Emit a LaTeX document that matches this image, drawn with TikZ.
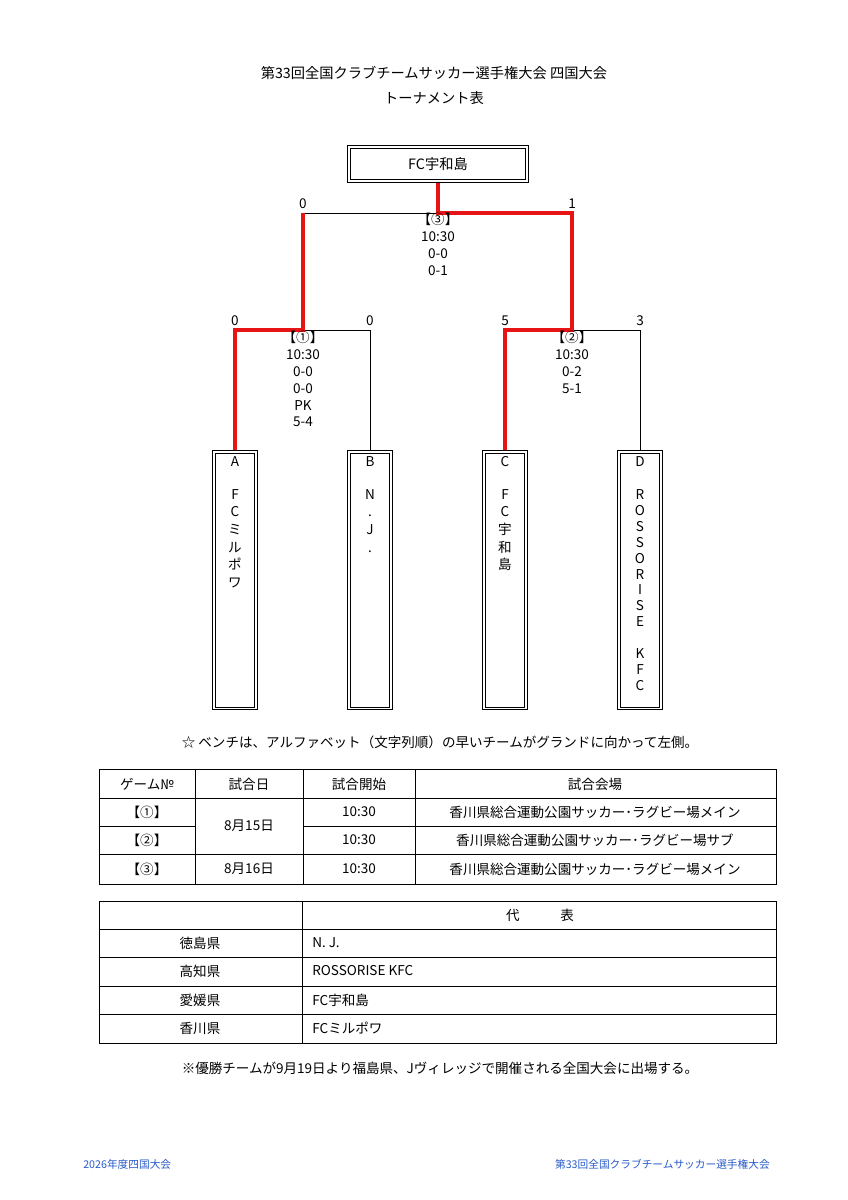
\documentclass[tikz,border=0pt]{standalone}
\usepackage{fontspec}
\setmainfont{Noto Sans CJK JP}
\usetikzlibrary{positioning}

\definecolor{winred}{RGB}{230,20,20}
\definecolor{footblue}{RGB}{40,90,200}

\tikzset{
  team/.style={draw, line width=0.6pt,
    minimum width=31.5pt, minimum height=182pt, inner sep=0pt},
  line/.style={line width=0.6pt},
  win/.style={line width=2.2pt, winred},
  score/.style={font=\fontsize{9.5}{11}\selectfont, inner sep=1pt},
  info/.style={align=center, anchor=north, inner sep=0pt,
    font=\fontsize{9.5}{11.8}\selectfont},
  letters/.style={align=center, anchor=north, inner sep=0pt,
    font=\fontsize{9.5}{12}\selectfont},
  cell/.style={font=\fontsize{9.5}{11}\selectfont, inner sep=0pt},
}
\newcommand{\innerframe}[1]{%
  \draw[line] ([shift={(2.2pt,-2.2pt)}]#1.north west) rectangle ([shift={(-2.2pt,2.2pt)}]#1.south east);}

\begin{document}
\begin{tikzpicture}[x=0.7017pt, y=-0.7017pt]
  \useasboundingbox (0,0) rectangle (848,1200);

  % title
  \node[cell, font=\fontsize{10}{12}\selectfont] (title) at (434,73) {第33回全国クラブチームサッカー選手権大会 四国大会};
  \node[cell, font=\fontsize{10}{12}\selectfont] (subtitle) at (434,98) {トーナメント表};

  % champion
  \node[team, minimum width=127pt, minimum height=26pt, font=\fontsize{10}{12}\selectfont] (champ) at (438,164) {FC宇和島};
  \innerframe{champ}

  % teams
  \node[team] (teamA) at (235,580) {};
  \node[team] (teamB) at (370,580) {};
  \node[team] (teamC) at (505,580) {};
  \node[team] (teamD) at (640,580) {};
  \foreach \t in {teamA,teamB,teamC,teamD} {\innerframe{\t}}
  \node[letters] at (235,456) {A};
  \node[letters] at (370,456) {B};
  \node[letters] at (505,456) {C};
  \node[letters] at (640,456) {D};
  \node[letters, font=\fontsize{9.5}{12.4}\selectfont] at (235,489) {F\\C\\ミ\\ル\\ポ\\ワ};
  \node[letters, font=\fontsize{9.5}{12.4}\selectfont] at (370,489) {N\\.\\J\\.};
  \node[letters, font=\fontsize{9.5}{12.4}\selectfont] at (505,489) {F\\C\\宇\\和\\島};
  \node[letters, font=\fontsize{9.5}{11.2}\selectfont] at (640,489) {R\\O\\S\\S\\O\\R\\I\\S\\E\\[11.2pt]K\\F\\C};

  % bracket points
  \coordinate (a1) at (235,330);
  \coordinate (b1) at (370,330);
  \coordinate (m1) at (303,330);
  \coordinate (c1) at (505,330);
  \coordinate (d1) at (640,330);
  \coordinate (m2) at (572,330);
  \coordinate (f1) at (303,213);
  \coordinate (f2) at (572,213);
  \coordinate (fm) at (438,213);

  % black lines
  \draw[line] (m1) -- (b1) -- (teamB.north);
  \draw[line] (m2) -- (d1) -- (teamD.north);
  \draw[line] (f1) -- (fm);
  % winners
  \draw[win] (teamA.north) -- (a1) -- (m1) -- (f1);
  \draw[win] (teamC.north) -- (c1) -- (m2) -- (f2) -- (fm) -- (champ.south);

  % scores
  \node[score, above=2pt of a1] {0};
  \node[score, above=2pt of b1] {0};
  \node[score, above=2pt of c1] {5};
  \node[score, above=2pt of d1] {3};
  \node[score, above=2pt of f1] {0};
  \node[score, above=2pt of f2] {1};

  % match info
  \node[info] (game3) at (438,213) {【③】\\10:30\\0-0\\0-1};
  \node[info] (game1) at (303,331) {【①】\\10:30\\0-0\\0-0\\PK\\5-4};
  \node[info] (game2) at (572,331) {【②】\\10:30\\0-2\\5-1};

  % note
  \node[cell] (bench) at (440,742) {☆ ベンチは、アルファベット（文字列順）の早いチームがグランドに向かって左側。};

  % schedule table
  \draw[line] (99,769) rectangle (776,884);
  \foreach \y in {798,854} \draw[line] (99,\y) -- (776,\y);
  \draw[line] (99,826) -- (195,826);
  \draw[line] (303,826) -- (776,826);
  \foreach \x in {195,303,415} \draw[line] (\x,769) -- (\x,884);
  \node[cell] at (147,784) {ゲーム№};
  \node[cell] at (249,784) {試合日};
  \node[cell] at (359,784) {試合開始};
  \node[cell] at (595,784) {試合会場};
  \node[cell] at (147,812) {【①】};
  \node[cell] at (147,840) {【②】};
  \node[cell] at (147,869) {【③】};
  \node[cell] at (249,826) {8月15日};
  \node[cell] at (249,869) {8月16日};
  \foreach \y in {812,840,869} \node[cell] at (359,\y) {10:30};
  \node[cell] at (595,812) {香川県総合運動公園サッカー･ラグビー場メイン};
  \node[cell] at (595,840) {香川県総合運動公園サッカー･ラグビー場サブ};
  \node[cell] at (595,869) {香川県総合運動公園サッカー･ラグビー場メイン};

  % representatives table
  \draw[line] (99,901) rectangle (776,1043);
  \foreach \y in {929,957,986,1014} \draw[line] (99,\y) -- (776,\y);
  \draw[line] (302,901) -- (302,1043);
  \node[cell] at (540,915) {代　　　表};
  \node[cell] at (200,943) {徳島県};
  \node[cell] at (200,971) {高知県};
  \node[cell] at (200,1000) {愛媛県};
  \node[cell] at (200,1028) {香川県};
  \node[cell, anchor=west] at (312,943) {N. J.};
  \node[cell, anchor=west] at (312,971) {ROSSORISE KFC};
  \node[cell, anchor=west] at (312,1000) {FC宇和島};
  \node[cell, anchor=west] at (312,1028) {FCミルポワ};

  \node[cell] (final) at (440,1068) {※優勝チームが9月19日より福島県、Jヴィレッジで開催される全国大会に出場する。};

  % footer
  \node[cell, anchor=west, footblue, font=\fontsize{7.5}{9}\selectfont] at (83,1164) {2026年度四国大会};
  \node[cell, anchor=east, footblue, font=\fontsize{7.5}{9}\selectfont] at (770,1164) {第33回全国クラブチームサッカー選手権大会};
\end{tikzpicture}
\end{document}
